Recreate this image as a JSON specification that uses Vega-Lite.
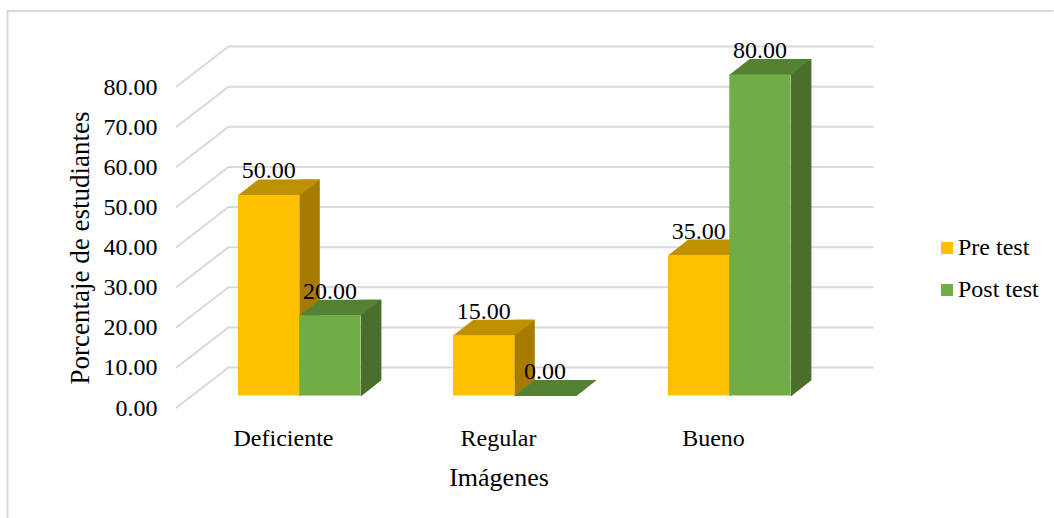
{
  "$schema": "https://vega.github.io/schema/vega-lite/v6.json",
  "width": 645,
  "height": 321,
  "autosize": "none",
  "padding": {"left": 176, "top": 87, "right": 233, "bottom": 110},
  "background": "white",
  "config": {"view": {"stroke": null}, "font": "Liberation Serif"},
  "datasets": {
    "barras": [
      {"categoria": "Deficiente", "serie": "Pre test", "valor": 50},
      {"categoria": "Deficiente", "serie": "Post test", "valor": 20},
      {"categoria": "Regular", "serie": "Pre test", "valor": 15},
      {"categoria": "Regular", "serie": "Post test", "valor": 0},
      {"categoria": "Bueno", "serie": "Pre test", "valor": 35},
      {"categoria": "Bueno", "serie": "Post test", "valor": 80}
    ],
    "marcas": [{"tick": 0},{"tick": 10},{"tick": 20},{"tick": 30},{"tick": 40},{"tick": 50},{"tick": 60},{"tick": 70},{"tick": 80}],
    "marco": [{"marco": "borde"}]
  },
  "layer": [
    {
      "data": {"name": "marco"},
      "mark": {"type": "point", "shape": "M-491 280 L-491 -236.5 L555 -236.5", "size": 4, "filled": false, "stroke": "#D9D9D9", "strokeWidth": 2, "opacity": 1}
    },
    {
      "data": {"name": "marcas"},
      "mark": {"type": "point", "shape": "M-322.5 0 L-270 -40.5 L375 -40.5", "size": 4, "filled": false, "stroke": "#D9D9D9", "strokeWidth": 2, "opacity": 1},
      "encoding": {
        "y": {"field": "tick", "type": "quantitative", "scale": {"domain": [0, 80]}, "axis": {"title": "Porcentaje de estudiantes", "format": ".2f", "values": [0,10,20,30,40,50,60,70,80], "domain": false, "ticks": false, "grid": false, "labelFontSize": 24, "labelColor": "#000000", "labelPadding": 19, "titleFontSize": 27, "titleFontWeight": "normal", "titleColor": "#000000", "titlePadding": 9}}
      }
    },
    {
      "data": {"name": "barras"},
      "transform": [{"filter": "datum.serie === 'Pre test'"}],
      "mark": {"type": "bar", "size": 20.5, "xOffset": 10.25, "x2Offset": 10.25, "yOffset": -28, "y2Offset": -26.5, "fill": "#A67C00"},
      "encoding": {
        "x": {"field": "categoria", "type": "nominal", "sort": ["Deficiente", "Regular", "Bueno"], "scale": {"paddingInner": 0.43, "paddingOuter": 0.215, "range": [15.8, 660.8]}, "axis": {"title": "Imágenes", "domain": false, "ticks": false, "labelAngle": 0, "labelFontSize": 24, "labelColor": "#000000", "labelPadding": 18, "labelOffset": -15.8, "titleX": 322.5, "titleFontSize": 26, "titleFontWeight": "normal", "titleColor": "#000000", "titlePadding": 14}},
        "y": {"field": "valor", "type": "quantitative"}
      }
    },
    {
      "data": {"name": "barras"},
      "transform": [{"filter": "datum.serie === 'Post test'"}],
      "mark": {"type": "bar", "size": 20.5, "xOffset": 71.85, "x2Offset": 71.85, "yOffset": -28, "y2Offset": -26.5, "fill": "#4A6E2B"},
      "encoding": {
        "x": {"field": "categoria", "type": "nominal", "sort": ["Deficiente", "Regular", "Bueno"]},
        "y": {"field": "valor", "type": "quantitative"}
      }
    },
    {
      "data": {"name": "barras"},
      "mark": {"type": "point", "shape": "M30.8 0 L51.1 -16 L51.1 -16.5 L30.8 -16.5 Z", "size": 4, "filled": true, "opacity": 1, "yOffset": -11.5, "strokeWidth": 0},
      "encoding": {
        "x": {"field": "categoria", "type": "nominal", "sort": ["Deficiente", "Regular", "Bueno"]},
        "xOffset": {"field": "serie", "type": "nominal", "sort": ["Pre test", "Post test"], "scale": {"padding": 0}},
        "y": {"datum": 0, "type": "quantitative"},
        "fill": {"condition": {"test": "datum.serie === 'Pre test'", "value": "#A67C00"}, "value": "#4A6E2B"}
      }
    },
    {
      "data": {"name": "barras"},
      "mark": {"type": "point", "shape": "M-30.8 0 L-10.3 -16 L51.3 -16 L30.8 0 Z", "size": 4, "filled": true, "opacity": 1, "yOffset": -12, "strokeWidth": 0},
      "encoding": {
        "x": {"field": "categoria", "type": "nominal", "sort": ["Deficiente", "Regular", "Bueno"]},
        "xOffset": {"field": "serie", "type": "nominal", "sort": ["Pre test", "Post test"]},
        "y": {"field": "valor", "type": "quantitative"},
        "fill": {"condition": {"test": "datum.serie === 'Pre test'", "value": "#BF9000"}, "value": "#548235"}
      }
    },
    {
      "data": {"name": "barras"},
      "mark": {"type": "bar", "yOffset": -12.5, "y2Offset": -11.5},
      "encoding": {
        "x": {"field": "categoria", "type": "nominal", "sort": ["Deficiente", "Regular", "Bueno"]},
        "xOffset": {"field": "serie", "type": "nominal", "sort": ["Pre test", "Post test"]},
        "y": {"field": "valor", "type": "quantitative"},
        "color": {"field": "serie", "type": "nominal", "sort": ["Pre test", "Post test"], "scale": {"domain": ["Pre test", "Post test"], "range": ["#FFC000", "#70AD47"]}, "legend": {"title": null, "orient": "none", "legendX": 759, "legendY": 149, "symbolType": "square", "symbolSize": 144, "labelFontSize": 24, "labelColor": "#000000", "labelOffset": -1, "rowPadding": 18, "symbolStrokeWidth": 0, "symbolOpacity": 1}}
      }
    },
    {
      "data": {"name": "barras"},
      "mark": {"type": "text", "font": "Liberation Serif", "fontSize": 24, "color": "#000000", "baseline": "middle", "yOffset": -36},
      "encoding": {
        "x": {"field": "categoria", "type": "nominal", "sort": ["Deficiente", "Regular", "Bueno"]},
        "xOffset": {"field": "serie", "type": "nominal", "sort": ["Pre test", "Post test"]},
        "y": {"field": "valor", "type": "quantitative"},
        "text": {"field": "valor", "type": "quantitative", "format": ".2f"}
      }
    }
  ]
}
